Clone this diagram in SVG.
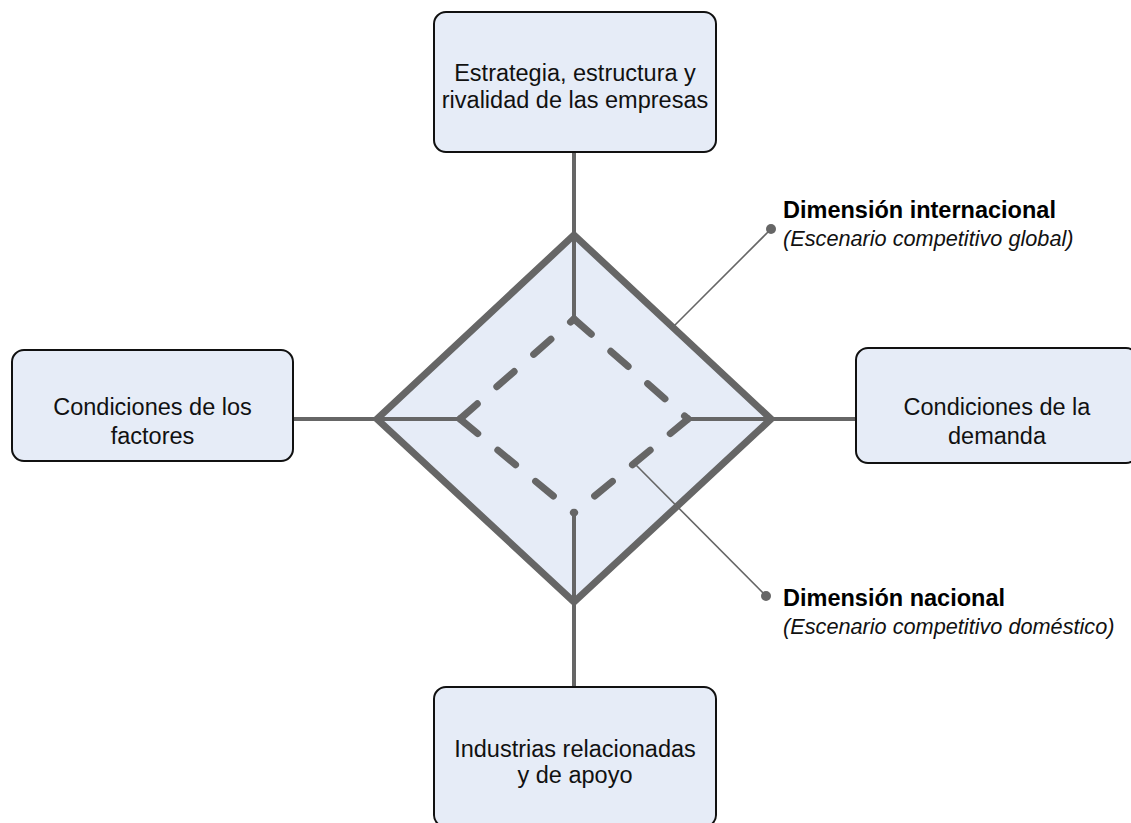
<svg xmlns="http://www.w3.org/2000/svg" width="1131" height="823" viewBox="0 0 1131 823">
<style>
.box{fill:#e6ecf7;stroke:#111;stroke-width:2}
.t{font-family:"Liberation Sans",Arial,sans-serif;font-size:23.5px;fill:#111;text-anchor:middle}
.conn{stroke:#666;stroke-width:4;fill:none}
.dash{stroke:#666;stroke-width:7;fill:none;stroke-dasharray:23 26;stroke-linecap:round}
.lead{stroke:#666;stroke-width:1.6;fill:none}
.lb{font-family:"Liberation Sans",Arial,sans-serif;font-size:23.5px;font-weight:bold;fill:#000}
.li{font-family:"Liberation Sans",Arial,sans-serif;font-size:21.7px;font-style:italic;fill:#111}
</style>
<rect width="1131" height="823" fill="#fff"/>
<g id="diamond">
<polygon points="574,235 771,419 574,602 377,419" fill="#e6ecf7" stroke="#666" stroke-width="7" stroke-linejoin="miter"/>
</g>
<g id="connectors">
<line class="conn" x1="574" y1="152" x2="574" y2="319"/>
<line class="conn" x1="293" y1="419" x2="460" y2="419"/>
<line class="conn" x1="688" y1="419" x2="856" y2="419"/>
<line class="conn" x1="574" y1="513" x2="574" y2="687"/>
<path class="dash" d="M574,319 L688,419"/>
<path class="dash" d="M688,419 L574,513"/>
<path class="dash" d="M460,419 L574,319"/>
<path class="dash" d="M460,419 L574,513"/>
<line class="lead" x1="673" y1="327" x2="771" y2="229"/>
<circle cx="771" cy="229" r="5" fill="#666"/>
<line class="lead" x1="634" y1="463" x2="766" y2="596"/>
<circle cx="766" cy="596" r="5" fill="#666"/>
</g>
<g id="top">
<rect class="box" x="434" y="12" width="282" height="140" rx="12"/>
<text class="t" x="575" y="81">Estrategia, estructura y</text>
<text class="t" x="575" y="108">rivalidad de las empresas</text>
</g>
<g id="left">
<rect class="box" x="12" y="350" width="281" height="111" rx="12"/>
<text class="t" x="152.5" y="415">Condiciones de los</text>
<text class="t" x="152.5" y="444">factores</text>
</g>
<g id="right">
<rect class="box" x="856" y="348" width="282" height="115" rx="12"/>
<text class="t" x="997" y="415">Condiciones de la</text>
<text class="t" x="997" y="444">demanda</text>
</g>
<g id="bottom">
<rect class="box" x="434" y="687" width="282" height="140" rx="12"/>
<text class="t" x="575" y="757">Industrias relacionadas</text>
<text class="t" x="575" y="783">y de apoyo</text>
</g>
<g id="label-internacional">
<text class="lb" x="783" y="218">Dimensión internacional</text>
<text class="li" x="783" y="246">(Escenario competitivo global)</text>
</g>
<g id="label-nacional">
<text class="lb" x="783" y="606">Dimensión nacional</text>
<text class="li" x="783" y="634">(Escenario competitivo doméstico)</text>
</g>
</svg>
